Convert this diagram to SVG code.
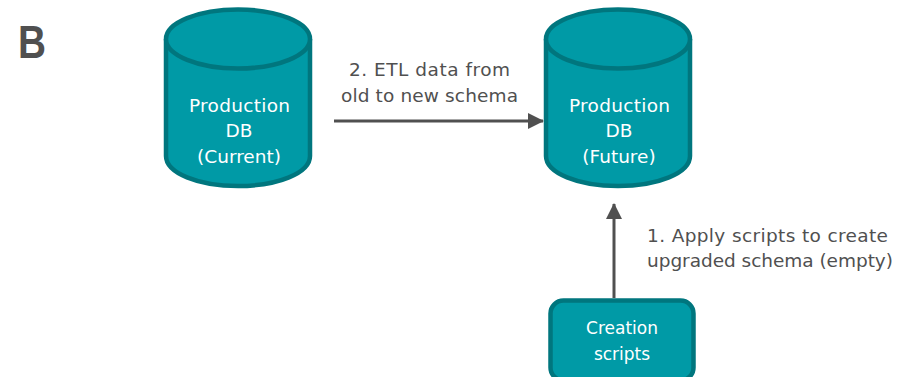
<svg xmlns="http://www.w3.org/2000/svg" width="900" height="377" viewBox="0 0 900 377">
<style>
.db{fill:#009aa6;stroke:#00767e;stroke-width:4.5}
.lt{font-family:"DejaVu Sans",sans-serif;font-size:18.500px;fill:#fff;text-anchor:middle}
.ls{font-size:17px}
.lb{font-family:"DejaVu Sans",sans-serif;font-size:18.500px;fill:#505050;text-anchor:middle}
.st{text-anchor:start}
.c{stroke:#505050;stroke-width:3;fill:none;marker-end:url(#a)}
</style>
<defs><marker id="a" markerUnits="userSpaceOnUse" markerWidth="16" markerHeight="16" refX="15" refY="8" orient="auto"><path d="M0 0L16 8L0 16Z" fill="#505050"/></marker></defs>
<rect width="900" height="377" fill="#fff"/>
<text x="18" y="58" font-family="Liberation Sans,sans-serif" font-weight="700" font-size="46" fill="#505050" textLength="28" lengthAdjust="spacingAndGlyphs">B</text>
<g id="connectors">
<path class="c" d="M334 121H543"/>
<path class="c" d="M614 298V204"/>
</g>
<g id="db-current">
<path class="db" d="M166 39V156C166 173 198 186 238 186S310 173 310 156V39"/>
<ellipse class="db" cx="238" cy="39" rx="72" ry="29.500"/>
<text class="lt" x="239.500" y="112" textLength="101">Production</text><text class="lt" x="239" y="137">DB</text><text class="lt" x="239" y="163">(Current)</text>
</g>
<g id="db-future">
<path class="db" d="M546 39V156C546 173 578 186 618 186S690 173 690 156V39"/>
<ellipse class="db" cx="618" cy="39" rx="72" ry="29.500"/>
<text class="lt" x="619.500" y="112" textLength="101">Production</text><text class="lt" x="619" y="137">DB</text><text class="lt" x="619" y="163">(Future)</text>
</g>
<g id="scripts">
<rect class="db" x="550.500" y="300.500" width="143" height="80" rx="13"/>
<text class="lt ls" x="622" y="334">Creation</text><text class="lt ls" x="622" y="360">scripts</text>
</g>
<g id="labels">
<text class="lb" x="429.500" y="76" textLength="161">2. ETL data from</text><text class="lb" x="429.500" y="102" textLength="177">old to new schema</text>
<text class="lb st" x="647" y="242" textLength="241">1. Apply scripts to create</text><text class="lb st" x="647" y="267" textLength="246">upgraded schema (empty)</text>
</g>
</svg>
